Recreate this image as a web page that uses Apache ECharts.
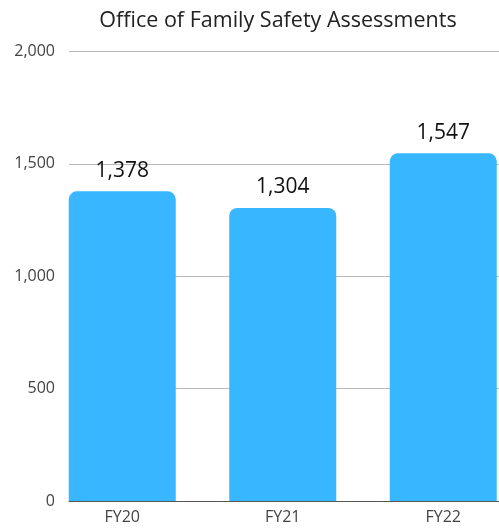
<!DOCTYPE html>
<html>
<head>
<meta charset="utf-8">
<script src="https://cdn.jsdelivr.net/npm/echarts@6/dist/echarts.min.js"></script>
<style>
  html, body { margin: 0; padding: 0; background: #fff; }
  #chart { width: 499px; height: 529px; }
</style>
</head>
<body>
<div id="chart"></div>
<script>
// Office of Family Safety Assessments by fiscal year
const YEARS = ['FY20', 'FY21', 'FY22'];
const ASSESSMENTS = [1378, 1304, 1547];
const Y_TICKS = [0, 500, 1000, 1500, 2000];

const FONT = '"Open Sans", sans-serif';
const fmt = v => v.toLocaleString('en-US');

const chart = echarts.init(document.getElementById('chart'));
chart.setOption({
  animation: false,
  textStyle: { fontFamily: FONT },
  title: {
    text: 'Office of Family Safety Assessments',
    left: 273, top: 5, textAlign: 'center',
    textStyle: { fontFamily: FONT, fontSize: 21.5, fontWeight: 'normal', color: '#222' }
  },
  grid: [
    // axis + gridlines
    { left: 69, right: 0, top: 51.5, bottom: 28, outerBoundsMode: 'none' },
    // bars (wider band so the first bar starts at the axis)
    { left: 42, width: 481.5, top: 51.5, bottom: 28, outerBoundsMode: 'none' }
  ],
  xAxis: [
    {
      gridIndex: 0, type: 'category', data: YEARS,
      axisLine: { lineStyle: { color: '#555', width: 1 } },
      axisTick: { show: false }, axisLabel: { show: false }
    },
    {
      gridIndex: 1, type: 'category', data: YEARS,
      axisLine: { show: false }, axisTick: { show: false },
      axisLabel: { color: '#444', fontSize: 16, fontFamily: FONT, margin: 8 }
    }
  ],
  yAxis: [
    {
      gridIndex: 0, type: 'value',
      min: Y_TICKS[0], max: Y_TICKS[Y_TICKS.length - 1], interval: 500,
      axisLine: { show: false }, axisTick: { show: false },
      axisLabel: { color: '#444', fontSize: 16, fontFamily: FONT, margin: 14, formatter: fmt },
      splitLine: { lineStyle: { color: '#bbb', width: 1 } }
    },
    {
      gridIndex: 1, type: 'value',
      min: Y_TICKS[0], max: Y_TICKS[Y_TICKS.length - 1], show: false
    }
  ],
  series: [{
    type: 'bar',
    xAxisIndex: 1, yAxisIndex: 1,
    data: ASSESSMENTS,
    barWidth: 107,
    itemStyle: { color: '#38b6ff', borderRadius: [8, 8, 0, 0] },
    label: {
      show: true, position: 'top', distance: 10,
      color: '#111', fontSize: 21, fontFamily: FONT,
      formatter: p => fmt(p.value)
    }
  }]
});
window.addEventListener('resize', () => chart.resize());
</script>
</body>
</html>
